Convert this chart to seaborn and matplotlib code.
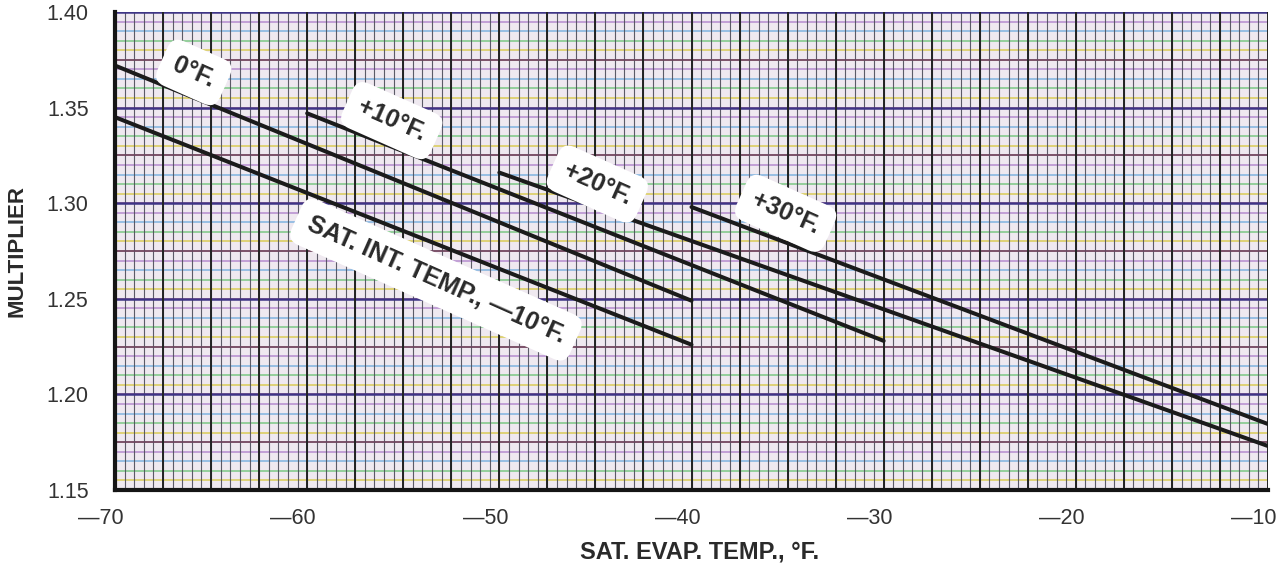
import numpy as np
import pandas as pd
import seaborn as sns
import matplotlib.pyplot as plt
from matplotlib.transforms import ScaledTranslation

# --- chart data ---
series = ['SAT. INT. TEMP., \u201410\u00b0F.', '0\u00b0F.', '+10\u00b0F.', '+20\u00b0F.', '+30\u00b0F.']
evap_start = [-70, -70, -60, -50, -40]
evap_end = [-40, -40, -30, -10, -10]
mult_start = [1.345, 1.372, 1.347, 1.316, 1.298]
mult_end = [1.226, 1.249, 1.228, 1.173, 1.1845]

x_ticks = [-70, -60, -50, -40, -30, -20, -10]
x_tick_labels = ['\u201470', '\u201460', '\u201450', '\u201440', '\u201430', '\u201420', '\u201410']
y_ticks = [1.15, 1.20, 1.25, 1.30, 1.35, 1.40]
y_tick_labels = ['1.15', '1.20', '1.25', '1.30', '1.35', '1.40']

# where each curve's name sits (data coords)
label_x = [-53.3, -65.9, -55.6, -44.9, -35.1]
label_y = [1.2600, 1.3684, 1.3432, 1.3100, 1.2947]

rows = []
for name, x0, x1, y0, y1 in zip(series, evap_start, evap_end, mult_start, mult_end):
    rows.append({'series': name, 'evap': x0, 'mult': y0})
    rows.append({'series': name, 'evap': x1, 'mult': y1})
df = pd.DataFrame(rows)

sns.set_style('white')
plt.rcParams['font.family'] = ['Liberation Sans', 'DejaVu Sans']

fig = plt.figure(figsize=(12.8, 5.66), dpi=100)
ax = fig.add_axes([115 / 1280, 1 - 490 / 566, 1153 / 1280, 478 / 566])
ax.set_facecolor('#efe9f0')
ax.set_xlim(-70, -10)
ax.set_ylim(1.15, 1.40)

# graph-paper grid: colored horizontal rules, dark vertical rules
h_minor = np.round(np.arange(1.15, 1.4001, 0.005), 4)
pastels = ['#e08a98', '#d9cc55', '#7cc884', '#7fb3e0', '#b58ccf']
h_colors = [pastels[i % len(pastels)] for i in range(len(h_minor))]
ax.hlines(h_minor, -70, -10, colors=h_colors, lw=1.1, zorder=0.5)
h_mid = np.round(np.arange(1.175, 1.40, 0.05), 4)
ax.hlines(h_mid, -70, -10, colors='#6a4660', lw=1.2, zorder=0.7)
ax.hlines(y_ticks, -70, -10, colors='#3e3486', lw=1.8, zorder=0.8)

v_minor = np.arange(-70, -9.99, 0.5)
ax.vlines(v_minor, 1.15, 1.40, colors='#4c4c58', lw=0.8, alpha=0.9, zorder=0.6)
v_major = np.arange(-70, -9.99, 2.5)
ax.vlines(v_major, 1.15, 1.40, colors='#222222', lw=1.4, zorder=0.9)

sns.lineplot(data=df, x='evap', y='mult', hue='series', units='series', estimator=None,
             palette={s: '#1b1b1b' for s in series}, lw=2.9, legend=False, ax=ax, zorder=3)

for name, tx, ty in zip(series, label_x, label_y):
    ax.text(tx, ty, name, rotation=-24, rotation_mode='anchor', ha='center', va='center',
            fontsize=18, fontweight='bold', color='#2a2a2a', zorder=4,
            bbox=dict(boxstyle='round,pad=0.5', facecolor='white', edgecolor='none'))

sns.despine(ax=ax, top=True, right=True)
for side in ['left', 'bottom']:
    ax.spines[side].set_linewidth(3.0)
    ax.spines[side].set_color('#151515')
    ax.spines[side].set_zorder(5)

ax.set_xticks(x_ticks)
ax.set_xticklabels(x_tick_labels)
ax.set_yticks(y_ticks)
ax.set_yticklabels(y_tick_labels)
ax.tick_params(axis='both', length=0, labelsize=15.5, labelcolor='#333333')
ax.tick_params(axis='y', pad=19)
ax.tick_params(axis='x', pad=13)
shift = ScaledTranslation(-14 / 100, 0, fig.dpi_scale_trans)
for lab in ax.get_xticklabels():
    lab.set_transform(lab.get_transform() + shift)

ax.set_xlabel('SAT. EVAP. TEMP., \u00b0F.', fontsize=17, fontweight='bold', color='#2a2a2a')
ax.set_ylabel('MULTIPLIER', fontsize=16, fontweight='bold', color='#2a2a2a')
ax.xaxis.set_label_coords(0.507, -0.105)
ax.yaxis.set_label_coords(-0.076, 0.5)

fig.savefig('out.png', dpi=100)
